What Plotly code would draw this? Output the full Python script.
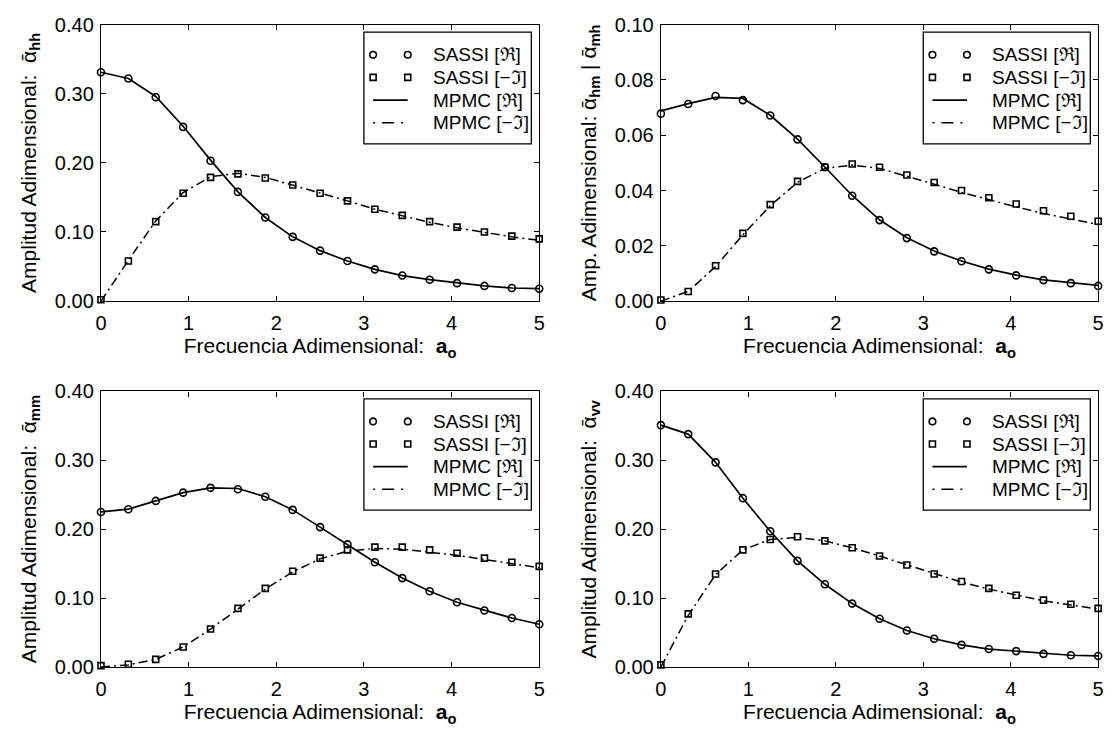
import plotly.graph_objects as go

# Dimensionless frequency a_o (sampling points of both methods)
a0 = [0.0, 0.3125, 0.625, 0.9375, 1.25, 1.5625, 1.875, 2.1875, 2.5,
      2.8125, 3.125, 3.4375, 3.75, 4.0625, 4.375, 4.6875, 5.0]

# alpha_hh
hh_sassi_re = [0.331, 0.322, 0.295, 0.252, 0.203, 0.158, 0.121, 0.093, 0.073,
               0.058, 0.046, 0.037, 0.031, 0.026, 0.022, 0.019, 0.018]
hh_sassi_im = [0.002, 0.058, 0.115, 0.156, 0.179, 0.184, 0.178, 0.168, 0.156,
               0.145, 0.133, 0.124, 0.115, 0.107, 0.100, 0.094, 0.090]
hh_mpmc_re = [0.331, 0.322, 0.296, 0.253, 0.204, 0.158, 0.121, 0.093, 0.073,
              0.058, 0.046, 0.037, 0.031, 0.026, 0.022, 0.019, 0.018]
hh_mpmc_im = [0.000, 0.059, 0.116, 0.157, 0.180, 0.185, 0.179, 0.168, 0.156,
              0.145, 0.133, 0.123, 0.114, 0.106, 0.099, 0.093, 0.088]

# alpha_hm | alpha_mh
mh_sassi_re = [0.0678, 0.0713, 0.0742, 0.0727, 0.0671, 0.0585, 0.0484, 0.0381, 0.0293,
               0.0228, 0.0180, 0.0144, 0.0115, 0.0093, 0.0076, 0.0065, 0.0055]
mh_sassi_im = [0.0004, 0.0035, 0.0128, 0.0245, 0.0349, 0.0433, 0.0484, 0.0496, 0.0484,
               0.0456, 0.0429, 0.0400, 0.0374, 0.0351, 0.0327, 0.0307, 0.0289]
mh_mpmc_re = [0.0688, 0.0714, 0.0737, 0.0733, 0.0672, 0.0586, 0.0485, 0.0382, 0.0294,
              0.0229, 0.0181, 0.0145, 0.0116, 0.0094, 0.0077, 0.0066, 0.0057]
mh_mpmc_im = [0.0000, 0.0035, 0.0125, 0.0240, 0.0345, 0.0430, 0.0480, 0.0492, 0.0480,
              0.0452, 0.0423, 0.0393, 0.0366, 0.0341, 0.0317, 0.0296, 0.0277]

# alpha_mm
mm_sassi_re = [0.225, 0.229, 0.241, 0.253, 0.260, 0.258, 0.247, 0.228, 0.203,
               0.178, 0.152, 0.129, 0.110, 0.094, 0.082, 0.071, 0.062]
mm_sassi_im = [0.002, 0.004, 0.011, 0.029, 0.055, 0.085, 0.114, 0.139, 0.158,
               0.170, 0.174, 0.174, 0.170, 0.165, 0.158, 0.152, 0.146]
mm_mpmc_re = [0.225, 0.229, 0.241, 0.253, 0.260, 0.259, 0.247, 0.228, 0.203,
              0.178, 0.152, 0.129, 0.110, 0.094, 0.082, 0.071, 0.062]
mm_mpmc_im = [0.000, 0.003, 0.011, 0.029, 0.055, 0.084, 0.113, 0.138, 0.157,
              0.168, 0.172, 0.171, 0.167, 0.162, 0.156, 0.150, 0.144]

# alpha_vv
vv_sassi_re = [0.351, 0.338, 0.297, 0.245, 0.197, 0.154, 0.120, 0.092, 0.070,
               0.053, 0.041, 0.032, 0.026, 0.023, 0.019, 0.017, 0.016]
vv_sassi_im = [0.003, 0.077, 0.135, 0.170, 0.185, 0.189, 0.183, 0.173, 0.161,
               0.148, 0.135, 0.124, 0.114, 0.104, 0.097, 0.091, 0.085]
vv_mpmc_re = [0.351, 0.338, 0.297, 0.245, 0.197, 0.154, 0.120, 0.092, 0.070,
              0.053, 0.041, 0.032, 0.026, 0.023, 0.019, 0.017, 0.016]
vv_mpmc_im = [0.000, 0.075, 0.134, 0.170, 0.185, 0.188, 0.183, 0.173, 0.161,
              0.148, 0.135, 0.123, 0.113, 0.104, 0.096, 0.090, 0.084]

y_titles = [
    "Amplitud Adimensional:  ᾱ<sub><b>hh</b></sub>",
    "Amp. Adimensional: ᾱ<sub><b>hm</b></sub> | ᾱ<sub><b>mh</b></sub>",
    "Amplitud Adimensional:  ᾱ<sub><b>mm</b></sub>",
    "Amplitud Adimensional:  ᾱ<sub><b>vv</b></sub>",
]
x_title = "Frecuencia Adimensional:  <b>a</b><sub><b>o</b></sub>"
legend_labels = ["SASSI [ℜ]", "SASSI [−ℑ]", "MPMC [ℜ]", "MPMC [−ℑ]"]

panels = [
    (hh_sassi_re, hh_sassi_im, hh_mpmc_re, hh_mpmc_im),
    (mh_sassi_re, mh_sassi_im, mh_mpmc_re, mh_mpmc_im),
    (mm_sassi_re, mm_sassi_im, mm_mpmc_re, mm_mpmc_im),
    (vv_sassi_re, vv_sassi_im, vv_mpmc_re, vv_mpmc_im),
]
y_ranges = [(0.0, 0.40, 0.10), (0.0, 0.10, 0.02), (0.0, 0.40, 0.10), (0.0, 0.40, 0.10)]

W, H = 1119, 742
x_domains = [(96 / W, 539 / W), (662 / W, 1104 / W)]
y_domains = [(1 - 299 / H, 1 - 14 / H), (1 - 676 / H, 1 - 392 / H)]

FONT = "Liberation Sans, Arial, Helvetica, sans-serif"
DASHDOT = "9px,4px,2px,4px"

fig = go.Figure()
layout = dict(
    width=W, height=H,
    margin=dict(l=0, r=0, t=0, b=0),
    paper_bgcolor="white", plot_bgcolor="white",
    font=dict(family=FONT, size=20, color="black"),
    showlegend=False,
)
shapes, annotations = [], []

for k, (s_re, s_im, m_re, m_im) in enumerate(panels):
    idx = "" if k == 0 else str(k + 1)
    xa, ya = "x" + idx, "y" + idx
    row, col = divmod(k, 2)

    fig.add_trace(go.Scatter(x=a0, y=m_re, mode="lines", xaxis=xa, yaxis=ya,
                             line=dict(color="black", width=1.7)))
    fig.add_trace(go.Scatter(x=a0, y=m_im, mode="lines", xaxis=xa, yaxis=ya,
                             line=dict(color="black", width=1.5, dash=DASHDOT)))
    fig.add_trace(go.Scatter(x=a0, y=s_re, mode="markers", xaxis=xa, yaxis=ya,
                             cliponaxis=False,
                             marker=dict(symbol="circle-open", size=7, color="black",
                                         line=dict(width=1.6, color="black"))))
    fig.add_trace(go.Scatter(x=a0, y=s_im, mode="markers", xaxis=xa, yaxis=ya,
                             cliponaxis=False,
                             marker=dict(symbol="square-open", size=6, color="black",
                                         line=dict(width=1.6, color="black"))))

    y0, y1, dy = y_ranges[k]
    nt = int(round((y1 - y0) / dy))
    yticks = [round(y0 + i * dy, 4) for i in range(nt + 1)]

    axis_common = dict(
        showline=True, linecolor="black", linewidth=1.4, mirror="ticks",
        ticks="inside", ticklen=5, tickwidth=1, tickcolor="black",
        showgrid=False, zeroline=False,
        tickfont=dict(family=FONT, size=20, color="black"),
    )
    layout["xaxis" + idx] = dict(
        axis_common, domain=x_domains[col], anchor=ya, range=[0, 5],
        tickvals=[0, 1, 2, 3, 4, 5], ticklabelstandoff=4,
        title=dict(text=x_title, font=dict(family=FONT, size=21), standoff=3),
    )
    layout["yaxis" + idx] = dict(
        axis_common, domain=y_domains[row], anchor=xa, range=[y0, y1],
        tickvals=yticks, tickformat=".2f", ticklabelstandoff=2,
        title=dict(text=y_titles[k], font=dict(family=FONT, size=21), standoff=12),
    )

    # Legend box drawn inside each panel
    xr, yr = xa + " domain", ya + " domain"
    shapes.append(dict(type="rect", xref=xr, yref=yr, x0=0.600, x1=0.982,
                       y0=0.569, y1=0.973, line=dict(color="black", width=1.3),
                       fillcolor="white", layer="above"))
    rows_y = [0.891, 0.809, 0.727, 0.645]
    mk1, mk2 = 0.621, 0.700
    for xm in (mk1, mk2):
        shapes.append(dict(type="circle", xref=xr, yref=yr,
                           xsizemode="pixel", ysizemode="pixel",
                           xanchor=xm, yanchor=rows_y[0], x0=-3.3, x1=3.3, y0=-3.3, y1=3.3,
                           line=dict(color="black", width=1.6), layer="above"))
        shapes.append(dict(type="rect", xref=xr, yref=yr,
                           xsizemode="pixel", ysizemode="pixel",
                           xanchor=xm, yanchor=rows_y[1], x0=-3, x1=3, y0=-3, y1=3,
                           line=dict(color="black", width=1.6), layer="above"))
    shapes.append(dict(type="line", xref=xr, yref=yr, x0=mk1, x1=mk2,
                       y0=rows_y[2], y1=rows_y[2],
                       line=dict(color="black", width=1.7), layer="above"))
    shapes.append(dict(type="line", xref=xr, yref=yr, x0=mk1, x1=mk2,
                       y0=rows_y[3], y1=rows_y[3],
                       line=dict(color="black", width=1.5, dash="2px,7px,12px,7px"),
                       layer="above"))
    for lbl, yy in zip(legend_labels, rows_y):
        annotations.append(dict(xref=xr, yref=yr, x=0.752, y=yy, text=lbl,
                                showarrow=False, xanchor="left", yanchor="middle",
                                font=dict(family=FONT, size=19, color="black")))

layout["shapes"] = shapes
layout["annotations"] = annotations
fig.update_layout(**layout)
fig.write_html("out.html")
